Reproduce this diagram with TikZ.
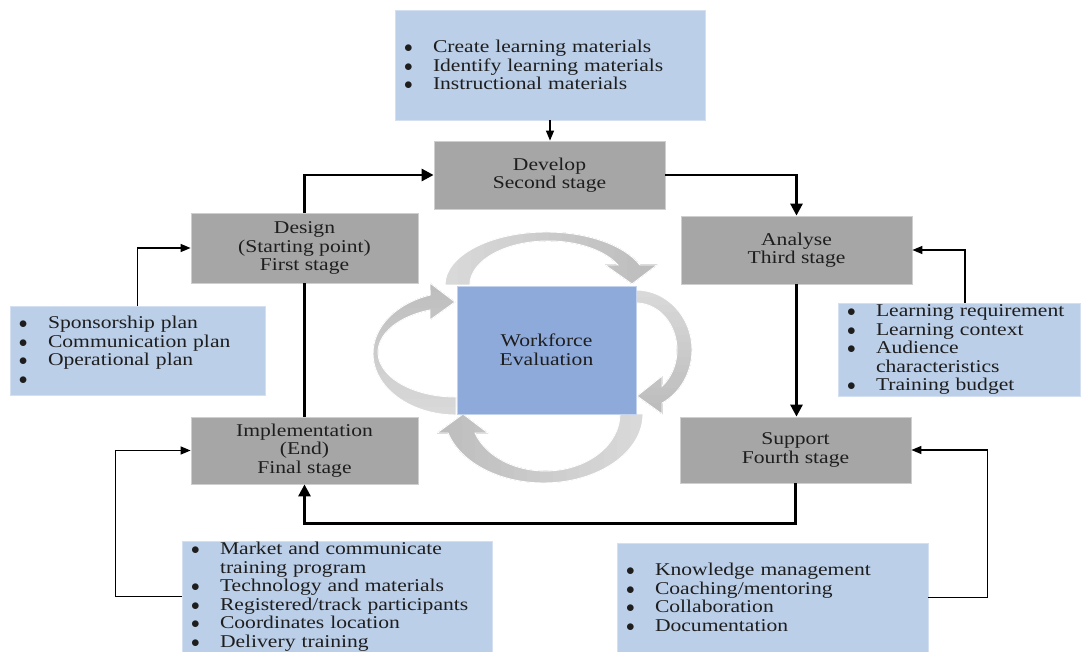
\documentclass[tikz,border=0pt]{standalone}
\usepackage{fontspec}
\setmainfont{Liberation Serif}[FakeStretch=1.2]
\usetikzlibrary{arrows.meta}

\definecolor{listblue}{HTML}{BCCFE9}
\definecolor{listedge}{HTML}{D4E0F1}
\definecolor{stagegray}{HTML}{A6A6A6}
\definecolor{stageedge}{HTML}{CFCFCF}
\definecolor{coreblue}{HTML}{8EAADB}
\definecolor{coreedge}{HTML}{C3D3EE}
\definecolor{cyclelight}{HTML}{D9D9D9}
\definecolor{cycledark}{HTML}{BBBBBB}
\definecolor{ink}{HTML}{1E1E1E}

% bullet line and indented continuation line
\newcommand{\bitem}[1]{\makebox[29pt][l]{$\bullet$}#1}
\newcommand{\bcont}[1]{\hspace*{29pt}#1}

\begin{document}
\begin{tikzpicture}[x=1pt,y=-1pt,
  every node/.style={font=\fontsize{18}{18.5}\selectfont, text=ink},
  stage/.style n args={2}{fill=stagegray, draw=stageedge, line width=0.8pt,
    inner sep=0pt, align=center, minimum width=#1, minimum height=#2},
  core/.style n args={2}{fill=coreblue, draw=coreedge, line width=0.8pt,
    inner sep=0pt, align=center, minimum width=#1, minimum height=#2},
  listbox/.style n args={2}{fill=listblue, draw=listedge, line width=0.8pt,
    inner xsep=9pt, inner ysep=0pt, align=left, text width=#1,
    minimum height=#2},
  flow/.style={draw=black, line width=2.8pt,
    -{Triangle[length=12pt,width=12pt]}},
  flowplain/.style={draw=black, line width=2.8pt},
  feed/.style={draw=black, line width=1.3pt,
    -{Triangle[length=10pt,width=8pt]}},
  ribbonedge/.style={draw=white, line width=0.9pt},
]
\useasboundingbox (0,0) rectangle (1082,652);

% ---- cycle of curved arrows around the centre ----
% outlines of the four ribbons
\path[save path=\arrowtop]
  (445,285) arc[start angle=180, end angle=337.8, x radius=101.2, y radius=53]
  -- (657,265) -- (632,284) -- (605,265) -- (618,265)
  arc[start angle=333, end angle=180, x radius=78.3, y radius=44] -- cycle;
\path[save path=\arrowright]
  (636,290) arc[start angle=270, end angle=422.3, x radius=56, y radius=60]
  -- (662,414) -- (637,396) -- (662,376) -- (662,386.3)
  arc[start angle=410.6, end angle=270, x radius=41, y radius=47] -- cycle;
\path[save path=\arrowbottom]
  (643,414) arc[start angle=0, end angle=164, x radius=99.4, y radius=69]
  -- (437,433) -- (463,414) -- (488,433) -- (475,433)
  arc[start angle=160.5, end angle=0, x radius=74.6, y radius=57] -- cycle;
\path[save path=\arrowleft]
  (456,415) arc[start angle=90, end angle=251.8, x radius=83, y radius=61.5]
  -- (430,283) -- (455,302) -- (430,320) -- (430,310)
  arc[start angle=250.5, end angle=90, x radius=78, y radius=44.8] -- cycle;

% each ribbon darkens from its tail towards its head
\begin{scope}
  \clip[use path=\arrowtop];
  \foreach \i in {0,...,16}{
    \pgfmathsetmacro\p{100*\i/16}
    \fill[cycledark!\p!cyclelight] ({445+\i*13},220) rectangle (700,300);}
\end{scope}
\begin{scope}
  \clip[use path=\arrowright];
  \foreach \i in {0,...,16}{
    \pgfmathsetmacro\p{100*\i/16}
    \fill[cycledark!\p!cyclelight] (620,{290+\i*7.5}) rectangle (710,430);}
\end{scope}
\begin{scope}
  \clip[use path=\arrowbottom];
  \foreach \i in {0,...,16}{
    \pgfmathsetmacro\p{100*\i/16}
    \fill[cycledark!\p!cyclelight] ({643-\i*12.9},400) rectangle (420,495);}
\end{scope}
\begin{scope}
  \clip[use path=\arrowleft];
  \foreach \i in {0,...,16}{
    \pgfmathsetmacro\p{100*\i/16}
    \fill[cycledark!\p!cyclelight] (360,{415-\i*8.2}) rectangle (470,270);}
\end{scope}
% clean ribbon edges
\path[ribbonedge, use path=\arrowtop];
\path[ribbonedge, use path=\arrowright];
\path[ribbonedge, use path=\arrowbottom];
\path[ribbonedge, use path=\arrowleft];

% ---- centre ----
\node[core={179pt}{128pt}] (core) at (546.5,350) {Workforce\\Evaluation};

% ---- stages ----
\node[stage={231pt}{68pt}] (develop) at (549.5,175) {Develop\\Second stage};
\node[stage={227pt}{70pt}] (design) at (304.5,248) {Design\\(Starting point)\\First stage};
\node[stage={231pt}{68pt}] (analyse) at (796.5,250) {Analyse\\Third stage};
\node[stage={227pt}{67pt}] (impl) at (304.5,450.5) {Implementation\\(End)\\Final stage};
\node[stage={231pt}{66pt}] (support) at (795.5,450) {Support\\Fourth stage};

% ---- activity lists ----
\node[listbox={292pt}{110pt}] (devlist) at (550,65)
  {\bitem{Create learning materials}\\
   \bitem{Identify learning materials}\\
   \bitem{Instructional materials}};
\node[listbox={237pt}{89pt}] (designlist) at (137.5,350.5)
  {\bitem{Sponsorship plan}\\
   \bitem{Communication plan}\\
   \bitem{Operational plan}\\
   \bitem{}};
\node[listbox={224pt}{93pt}] (analyselist) at (959,349.5)
  {\bitem{Learning requirement}\\
   \bitem{Learning context}\\
   \bitem{Audience}\\
   \bcont{characteristics}\\
   \bitem{Training budget}};
\node[listbox={292pt}{111pt}] (impllist) at (337,596.5)
  {\bitem{Market and communicate}\\
   \bcont{training program}\\
   \bitem{Technology and materials}\\
   \bitem{Registered/track participants}\\
   \bitem{Coordinates location}\\
   \bitem{Delivery training}};
\node[listbox={293pt}{109pt}] (supportlist) at (772.5,597.5)
  {\bitem{Knowledge management}\\
   \bitem{Coaching/mentoring}\\
   \bitem{Collaboration}\\
   \bitem{Documentation}};

% ---- main cycle connectors ----
\draw[flow] (design.north) |- (develop.west);
\draw[flow] (develop.east) -| (analyse.north);
\draw[flow] (analyse.south) -- (analyse.south |- support.north);
\draw[flow] (support.south) -- ++(0,40) -| (impl.south);
\draw[flowplain] (impl.north) -- (design.south);

% ---- list feeds ----
\draw[feed] (devlist.south) -- (devlist.south |- develop.north);
\draw[feed] (designlist.north) |- (design.west);
\draw[feed] ([xshift=6pt]analyselist.north) |- (analyse.east);
\draw[feed] (impllist.west) -- ++(-66,0) |- (impl.west);
\draw[feed] (supportlist.east) -- ++(59,0) |- (support.east);
\end{tikzpicture}
\end{document}
